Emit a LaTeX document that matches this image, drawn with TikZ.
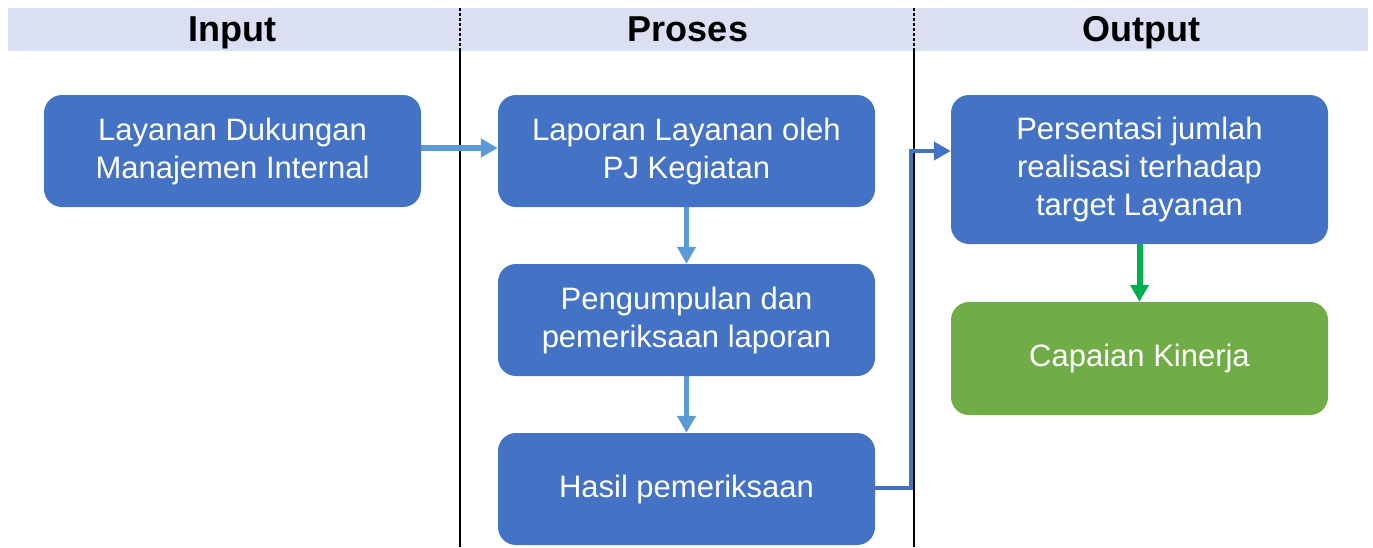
\documentclass[tikz,border=0pt]{standalone}
\usepackage{fontspec}
\setmainfont{Liberation Sans}
\usetikzlibrary{arrows.meta}
\definecolor{hdr}{HTML}{DAE0F2}
\definecolor{bbox}{HTML}{4472C4}
\definecolor{gbox}{HTML}{70AD47}
\definecolor{larr}{HTML}{5B9BD5}
\definecolor{garr}{HTML}{00B050}
\tikzset{
  box/.style={fill=bbox, draw=none, rounded corners=18pt, minimum width=377pt, minimum height=112pt, text=white, align=center, font=\fontsize{31}{38}\selectfont, inner sep=0pt},
  gbx/.style={box, fill=gbox},
  hdrtxt/.style={font=\bfseries\fontsize{36}{40}\selectfont, inner sep=0pt, anchor=base},
  arr/.style={draw=larr, line width=5.5pt, -{Triangle[length=17pt,width=18pt]}},
  elb/.style={draw=bbox, line width=4.5pt, -{Triangle[length=17pt,width=18pt]}},
  garrow/.style={draw=garr, line width=6pt, -{Triangle[length=17pt,width=18pt]}},
}
\begin{document}
\begin{tikzpicture}[x=1pt,y=-1pt]
\useasboundingbox (0,0) rectangle (1373,547);
\fill[hdr] (8,8) rectangle (1368,51);
\node[hdrtxt] (hi) at (232,41) {Input};
\node[hdrtxt] (hp) at (688,41) {Proses};
\node[hdrtxt] (ho) at (1141,41) {Output};
\draw[line width=1.2pt, dashed, dash pattern=on 3pt off 2pt] (460,8) -- (460,51);
\draw[line width=1.2pt, dashed, dash pattern=on 3pt off 2pt] (914,8) -- (914,51);
\draw[line width=2pt] (460,51) -- (460,547);
\draw[line width=2pt] (914,51) -- (914,547);

\node[box] (in) at (232.5,151) {Layanan Dukungan\\Manajemen Internal};
\node[box] (p1) at (686.5,151) {Laporan Layanan oleh\\PJ Kegiatan};
\node[box] (p2) at (686.5,320) {Pengumpulan dan\\pemeriksaan laporan};
\node[box] (p3) at (686.5,489) {Hasil pemeriksaan};
\node[box, minimum height=149pt] (o1) at (1139.5,169.5) {Persentasi jumlah\\realisasi terhadap\\target Layanan};
\node[gbx, minimum height=113pt] (o2) at (1139.5,358.5) {Capaian Kinerja};

\draw[arr] (in.east |- 0,148) -- (p1.west |- 0,148);
\draw[arr] (p1.south) -- (p2.north);
\draw[arr] (p2.south) -- (p3.north);
\coordinate (e1) at (911,488);
\coordinate (e2) at (911,151);
\draw[elb] (p3.east |- e1) -- (e1) -- (e2) -- (o1.west |- e2);
\draw[garrow] (o1.south) -- (o2.north);
\end{tikzpicture}
\end{document}
